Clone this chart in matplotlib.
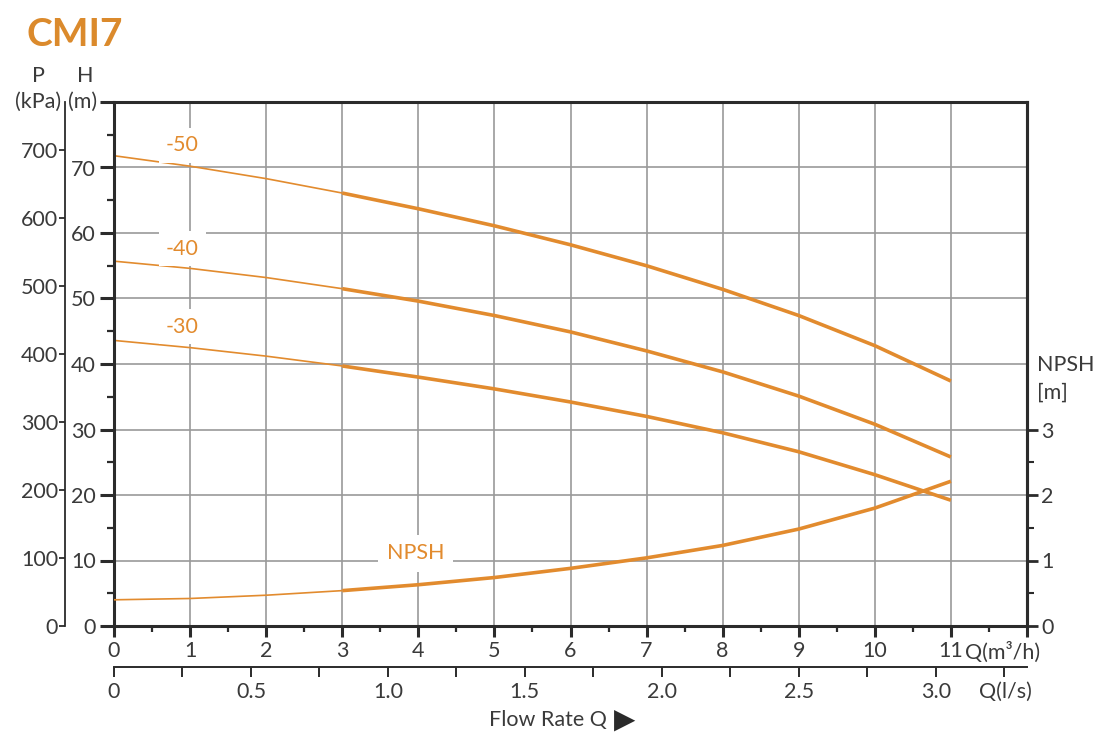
import numpy as np
import matplotlib
matplotlib.use("Agg")
import matplotlib.pyplot as plt

plt.rcParams['font.family'] = ['Lato', 'DejaVu Sans']

# flow rate Q (m3/h) where the curves were read
q = [0, 1, 2, 3, 4, 5, 6, 7, 8, 9, 10, 11]

# head H (m) for the three pump curves
h_50 = [71.8, 70.2, 68.3, 66.1, 63.7, 61.1, 58.2, 55.0, 51.4, 47.4, 42.8, 37.4]
h_40 = [55.7, 54.6, 53.2, 51.5, 49.6, 47.4, 44.9, 42.0, 38.8, 35.1, 30.8, 25.8]
h_30 = [43.6, 42.5, 41.2, 39.7, 38.0, 36.2, 34.2, 32.0, 29.5, 26.6, 23.1, 19.2]
# NPSH (m)
npsh = [0.40, 0.42, 0.47, 0.54, 0.63, 0.74, 0.88, 1.04, 1.23, 1.48, 1.80, 2.21]

curve_names = ['-50', '-40', '-30']
label_pos = [(0.9, 73.4), (0.9, 57.6), (0.9, 45.7)]

q_ticks = list(range(0, 13))
q_labels = [str(v) for v in range(0, 12)] + ['']
h_ticks = list(range(0, 81, 10))
h_labels = [str(v) for v in range(0, 71, 10)] + ['']
p_ticks = list(range(0, 701, 100))
npsh_ticks = [0, 1, 2, 3]
ls_ticks = list(np.arange(0, 3.26, 0.25))
ls_labels = ['0', '', '0.5', '', '1.0', '', '1.5', '', '2.0', '', '2.5', '', '3.0', '']

orange = '#E28B2E'
dark = '#2b2b2b'
txt = '#3a3a3a'
fs = 15.5
W, H = 1100, 742


def fx(px):
    return px / W


def fy(py):
    return 1 - py / H


fig = plt.figure(figsize=(11, 7.42), dpi=100)
ax = fig.add_axes([fx(114), 116 / H, 913 / W, 524 / H])
ax.set_xlim(0, 12)
ax.set_ylim(0, 80)

ax.set_xticks(q_ticks)
ax.set_xticklabels(q_labels)
ax.set_xticks(np.arange(0.5, 12, 1), minor=True)
ax.set_yticks(h_ticks)
ax.set_yticklabels(h_labels)
ax.set_yticks(np.arange(5, 80, 10), minor=True)
ax.grid(which='major', color='#9a9a9a', lw=1.2)
ax.set_axisbelow(True)

for s in ax.spines.values():
    s.set_linewidth(2.2)
    s.set_color(dark)

ax.tick_params(axis='y', which='major', length=10, width=2.2, color=dark,
               labelsize=fs, labelcolor=txt, pad=3)
ax.tick_params(axis='y', which='minor', length=5, width=1.6, color=dark)
ax.tick_params(axis='x', which='major', length=8, width=2.2, color=dark,
               labelsize=fs, labelcolor=txt, pad=3)
ax.tick_params(axis='x', which='minor', length=4, width=1.6, color=dark)

# pump curves: thin up to Q=3, thick after
for hv, name, (lx, ly) in zip([h_50, h_40, h_30], curve_names, label_pos):
    ax.plot(q[:4], hv[:4], color=orange, lw=1.2, solid_capstyle='butt')
    ax.plot(q[3:], hv[3:], color=orange, lw=2.6, solid_capstyle='butt',
            solid_joinstyle='round')
    ax.text(lx, ly, name, color=orange, fontsize=fs, ha='center', va='center',
            bbox=dict(boxstyle='square,pad=0.35', fc='white', ec='none'))

# P axis (kPa) on the far left
ax2 = ax.twinx()
ax2.set_ylim(0, 771)
ax2.yaxis.tick_left()
for k in ['right', 'top', 'bottom']:
    ax2.spines[k].set_visible(False)
ax2.spines['left'].set_visible(True)
ax2.spines['left'].set_position(('outward', 35.3))
ax2.spines['left'].set_linewidth(1.3)
ax2.spines['left'].set_color(dark)
ax2.set_yticks(p_ticks)
ax2.tick_params(axis='y', length=4, width=1.3, color=dark, labelsize=fs,
                labelcolor=txt, pad=1)

# NPSH axis on the right
ax3 = ax.twinx()
ax3.set_ylim(0, 8)
for k in ['left', 'top', 'bottom']:
    ax3.spines[k].set_visible(False)
ax3.spines['right'].set_linewidth(2.2)
ax3.spines['right'].set_color(dark)
ax3.set_yticks(npsh_ticks)
ax3.set_yticks([0.5, 1.5, 2.5], minor=True)
ax3.tick_params(axis='y', which='major', length=8, width=2, color=dark,
                labelsize=fs, labelcolor=txt, pad=2)
ax3.tick_params(axis='y', which='minor', length=5, width=1.5, color=dark)
ax3.plot(q[:4], npsh[:4], color=orange, lw=1.2, solid_capstyle='butt')
ax3.plot(q[3:], npsh[3:], color=orange, lw=2.6, solid_capstyle='butt',
         solid_joinstyle='round')
ax3.text(3.96, 1.11, 'NPSH', color=orange, fontsize=fs, ha='center', va='center',
         bbox=dict(boxstyle='square,pad=0.4', fc='white', ec='none'))

# second flow axis in l/s
ax4 = ax.twiny()
ax4.set_xlim(0, 12 / 3.6)
ax4.xaxis.tick_bottom()
for k in ['left', 'right', 'top']:
    ax4.spines[k].set_visible(False)
ax4.spines['bottom'].set_position(('outward', 29.5))
ax4.spines['bottom'].set_linewidth(1.4)
ax4.spines['bottom'].set_color(dark)
ax4.set_xticks(ls_ticks)
ax4.set_xticklabels(ls_labels)
ax4.tick_params(axis='x', length=7, width=1.4, color=dark, labelsize=fs,
                labelcolor=txt, pad=4)

# texts
fig.text(fx(27), fy(35), 'CMI7', fontsize=28, fontweight='bold', color='#DB8A2C',
         ha='left', va='center')
fig.text(fx(38), fy(76), 'P', fontsize=fs, color=txt, ha='center', va='center')
fig.text(fx(85), fy(76), 'H', fontsize=fs, color=txt, ha='center', va='center')
fig.text(fx(38), fy(102), '(kPa)', fontsize=fs, color=txt, ha='center', va='center')
fig.text(fx(83), fy(102), '(m)', fontsize=fs, color=txt, ha='center', va='center')
fig.text(fx(1037), fy(365), 'NPSH', fontsize=fs, color=txt, ha='left', va='center')
fig.text(fx(1037), fy(393), '[m]', fontsize=fs, color=txt, ha='left', va='center')
fig.text(fx(965), fy(652), 'Q(m³/h)', fontsize=fs, color=txt, ha='left', va='center')
fig.text(fx(979), fy(692), 'Q(l/s)', fontsize=fs, color=txt, ha='left', va='center')
fig.text(fx(607), fy(720), 'Flow Rate Q', fontsize=fs, color=txt,
         ha='right', va='center')
fig.text(fx(614), fy(720), '▶', fontsize=20, color='#2a2a2a',
         family='DejaVu Sans', ha='left', va='center')

fig.savefig('out.png', dpi=100)
